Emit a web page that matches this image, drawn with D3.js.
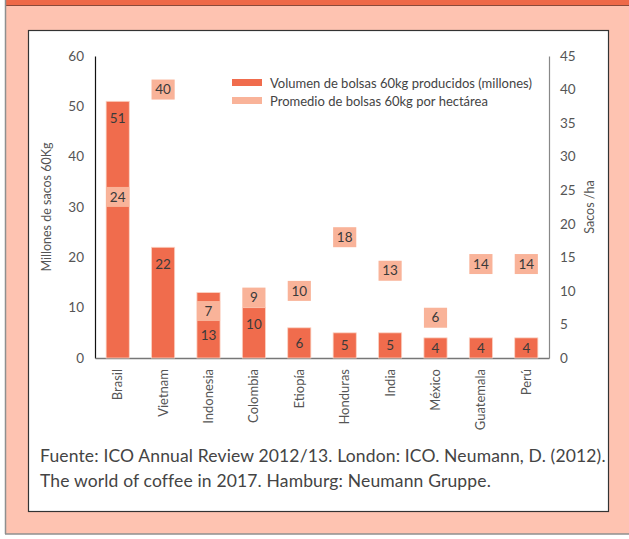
<!DOCTYPE html>
<html><head><meta charset="utf-8">
<script src="https://cdn.jsdelivr.net/npm/d3@7"></script>
<style>body{margin:0;background:#fff}svg{display:block}text{font-family:Lato,"Noto Sans",sans-serif}</style>
</head><body>
<svg id="c" width="629" height="539"></svg>
<script>
const categories = ["Brasil","Vietnam","Indonesia","Colombia","Etiopía","Honduras","India","México","Guatemala","Perú"];
const volumen = [51,22,13,10,6,5,5,4,4,4];
const promedio = [24,40,7,9,10,18,13,6,14,14];
const leftTicks = [0,10,20,30,40,50,60];
const rightTicks = [0,5,10,15,20,25,30,35,40,45];
const legendLabels = ["Volumen de bolsas 60kg producidos (millones)","Promedio de bolsas 60kg por hectárea"];
const sourceLines = ["Fuente: ICO Annual Review 2012/13. London: ICO. Neumann, D. (2012).","The world of coffee in 2017. Hamburg: Neumann Gruppe."];

const dark = "#f06c4d", light = "#f9b399", bg = "#fec3b1", txt = "#444";
const svg = d3.select("#c");

// frame
svg.append("rect").attr("x",5).attr("y",0).attr("width",630).attr("height",534).attr("fill",bg);
svg.append("rect").attr("x",5).attr("y",0).attr("width",630).attr("height",5).attr("fill","#ee6948");
svg.append("line").attr("x1",5).attr("x2",629).attr("y1",5.5).attr("y2",5.5).attr("stroke","#8a4a3a").attr("stroke-width",1);
svg.append("line").attr("x1",5.5).attr("x2",5.5).attr("y1",0).attr("y2",534).attr("stroke","#8f8f8f").attr("stroke-width",1.5);
svg.append("line").attr("x1",5).attr("x2",629).attr("y1",534).attr("y2",534).attr("stroke","#8f8f8f").attr("stroke-width",1.5);
svg.append("rect").attr("x",28.5).attr("y",30.5).attr("width",580).attr("height",481).attr("fill","#fff").attr("stroke","#333").attr("stroke-width",1.2);

const x0 = 95, x1 = 549, yTop = 56, yBot = 358;
const x = d3.scaleBand().domain(categories).range([x0,x1]).paddingInner(0.49).paddingOuter(0.245);
const yL = d3.scaleLinear().domain([0,60]).range([yBot,yTop]);
const yR = d3.scaleLinear().domain([0,45]).range([yBot,yTop]);

// left axis
const gl = svg.append("g").attr("transform",`translate(${x0},0)`)
  .call(d3.axisLeft(yL).tickValues(leftTicks).tickSize(0).tickPadding(11));
gl.select(".domain").attr("stroke","#111").attr("stroke-width",1.2);
gl.selectAll("text").attr("fill","#555").style("font-size","13.5px");
// right axis
const gr = svg.append("g").attr("transform",`translate(${x1},0)`)
  .call(d3.axisRight(yR).tickValues(rightTicks).tickSize(0).tickPadding(11));
gr.select(".domain").attr("stroke","#888").attr("stroke-width",1.2);
gr.selectAll("text").attr("fill","#555").style("font-size","13.5px");
// bottom axis
const gb = svg.append("g").attr("transform",`translate(0,${yBot})`)
  .call(d3.axisBottom(x).tickSize(0).tickPadding(12));
gb.select(".domain").attr("stroke","#777").attr("stroke-width",1.5);
gb.selectAll("text").attr("fill","#555").style("font-size","13px")
  .attr("text-anchor","end").attr("transform","rotate(-90)").attr("x",-11).attr("y",0).attr("dy","0.35em");

// axis titles
svg.append("text").attr("transform",`translate(51,${(yTop+yBot)/2}) rotate(-90)`).attr("text-anchor","middle")
  .attr("fill","#555").style("font-size","12.5px").text("Millones de sacos 60Kg");
svg.append("text").attr("transform",`translate(594,${(yTop+yBot)/2}) rotate(-90)`).attr("text-anchor","middle")
  .attr("fill","#555").style("font-size","12.5px").text("Sacos /ha");

const data = categories.map((c,i)=>({c, v:volumen[i], p:promedio[i]}));
const bw = x.bandwidth(), boxH = 20;

// bars
svg.append("g").selectAll("rect").data(data).join("rect")
  .attr("x",d=>x(d.c)).attr("y",d=>yL(d.v)).attr("width",bw).attr("height",d=>yBot-yL(d.v))
  .attr("fill",dark).attr("stroke","#fbd3c4").attr("stroke-width",0.8);
// promedio boxes
svg.append("g").selectAll("rect").data(data).join("rect")
  .attr("x",d=>x(d.c)).attr("y",d=>yR(d.p)-boxH/2).attr("width",bw).attr("height",boxH)
  .attr("fill",light);
// bar labels
svg.append("g").selectAll("text").data(data).join("text")
  .attr("x",d=>x(d.c)+bw/2)
  .attr("y",d=>{
    const top=yL(d.v), h=yBot-top;
    let y = h>32 ? top+17 : (top+yBot)/2;
    const bt=yR(d.p)-boxH/2, bb=yR(d.p)+boxH/2;
    if (y+7>bt && y-7<bb) y = bb+14;
    return y;
  })
  .attr("dy","0.35em").attr("text-anchor","middle").attr("fill","#3a3a3a").style("font-size","13.5px").text(d=>d.v);
// box labels
svg.append("g").selectAll("text").data(data).join("text")
  .attr("x",d=>x(d.c)+bw/2).attr("y",d=>yR(d.p)).attr("dy","0.35em")
  .attr("text-anchor","middle").attr("fill","#3a3a3a").style("font-size","13.5px").text(d=>d.p);

// legend
const lg = svg.append("g");
[dark,light].forEach((col,i)=>{
  lg.append("rect").attr("x",232).attr("y",79+i*18).attr("width",30).attr("height",7).attr("fill",col);
  lg.append("text").attr("x",270).attr("y",83+i*18).attr("dy","0.35em").attr("fill","#444").style("font-size","13px").text(legendLabels[i]);
});

// source
sourceLines.forEach((s,i)=>{
  svg.append("text").attr("x",40).attr("y",456+i*25).attr("dy","0.35em").attr("fill",txt)
    .style("font-size","17.5px").style("letter-spacing","0.15px").text(s);
});
</script>
</body></html>
